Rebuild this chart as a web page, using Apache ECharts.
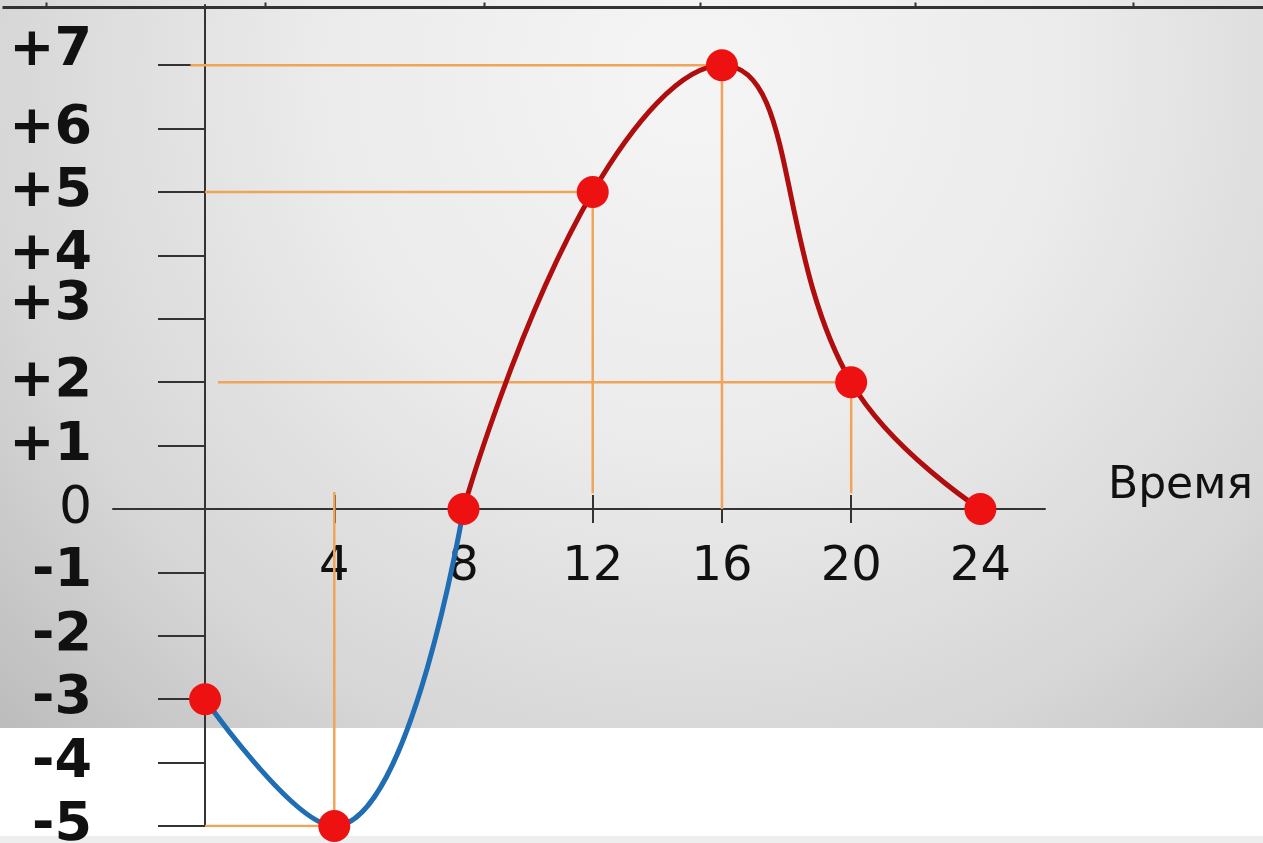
<!DOCTYPE html>
<html lang="ru">
  <head>
    <meta charset="UTF-8" />
    <title>Температура</title>
    <script src="https://cdn.jsdelivr.net/npm/echarts@6/dist/echarts.min.js"></script>
    <style>
      html, body { margin: 0; padding: 0; width: 100%; height: 100%; background: #fff; }
      #chart { width: 1263px; height: 843px; }
    </style>
  </head>
  <body>
    <div id="chart"></div>
    <script>
      // время суток и температура
      var hours = [0, 4, 8, 12, 16, 20, 24];
      var temps = [-3, -5, 0, 5, 7, 2, 0];
      // тики осей
      var xTicks = [4, 8, 12, 16, 20, 24];
      var yTicks = [-5, -4, -3, -2, -1, 0, 1, 2, 3, 4, 5, 6, 7];
      // оранжевые линии: [y, xFrom, xTo] и [x, yFrom, yTo]
      var guideH = [[7, -0.45, 16], [5, 0, 12], [2, 0.4, 20], [-5, 0, 4]];
      var guideV = [[4, -5, 0.27], [12, 5, 0.25], [16, 7, 0], [20, 2, 0.25]];

      var font = "DejaVu Sans";
      var X_MIN = -2.85, X_MAX = 26, Y_MIN = -5, Y_MAX = 7.95;
      var pts = hours.map(function (h, i) { return [h, temps[i]]; });
      var coldPart = pts.slice(0, 3); // ниже нуля, синий
      var warmPart = pts.slice(2);    // выше нуля, красный

      var series = [];
      guideH.forEach(function (g) {
        series.push({
          type: "line", data: [[g[1], g[0]], [g[2], g[0]]], symbol: "none", z: 1,
          lineStyle: { color: "#f0a45a", width: 2.5 }, silent: true
        });
      });
      guideV.forEach(function (g) {
        series.push({
          type: "line", data: [[g[0], g[1]], [g[0], g[2]]], symbol: "none", z: 1,
          lineStyle: { color: "#f0a45a", width: 2.5 }, silent: true
        });
      });
      series.push({
        type: "line", data: coldPart, smooth: 0.45, symbol: "none", z: 3,
        lineStyle: { color: "#1f6db3", width: 5 }
      });
      series.push({
        type: "line", data: warmPart, smooth: 0.45, symbol: "none", z: 3,
        lineStyle: { color: "#b00e0e", width: 5 }
      });
      series.push({
        type: "scatter", data: pts, symbolSize: 32, z: 5,
        itemStyle: { color: "#ee1111", opacity: 1 }
      });

      var axisColor = { color: "#333", width: 2 };
      var hiddenX = { type: "value", show: false, min: X_MIN, max: X_MAX };
      var hiddenY = { type: "value", show: false, min: Y_MIN, max: Y_MAX };

      var option = {
        animation: false,
        backgroundColor: "#fff",
        graphic: [
          {
            type: "rect", left: 0, top: 0, z: -10, silent: true,
            shape: { width: 1263, height: 728 },
            style: {
              fill: {
                type: "radial", x: 0.55, y: 0.1, r: 1.3,
                colorStops: [
                  { offset: 0, color: "#f5f5f5" },
                  { offset: 0.4, color: "#ebebeb" },
                  { offset: 0.75, color: "#d6d6d6" },
                  { offset: 1, color: "#bdbdbd" }
                ]
              }
            }
          },
          {
            type: "rect", left: 0, top: 836, z: -10, silent: true,
            shape: { width: 1263, height: 7 }, style: { fill: "#eeeeee" }
          },
          // верхняя рамка таблицы
          {
            type: "group", left: 0, top: 0, z: -5, silent: true,
            children: [
              { type: "line", shape: { x1: 0, y1: 5, x2: 1263, y2: 5 }, style: { stroke: "#333", lineWidth: 3 } },
              { type: "line", shape: { x1: 44, y1: 0, x2: 44, y2: 5 }, style: { stroke: "#333", lineWidth: 2 } },
              { type: "line", shape: { x1: 263, y1: 0, x2: 263, y2: 5 }, style: { stroke: "#333", lineWidth: 2 } },
              { type: "line", shape: { x1: 482, y1: 0, x2: 482, y2: 5 }, style: { stroke: "#333", lineWidth: 2 } },
              { type: "line", shape: { x1: 698, y1: 0, x2: 698, y2: 5 }, style: { stroke: "#333", lineWidth: 2 } },
              { type: "line", shape: { x1: 913, y1: 0, x2: 913, y2: 5 }, style: { stroke: "#333", lineWidth: 2 } },
              { type: "line", shape: { x1: 1131, y1: 0, x2: 1131, y2: 5 }, style: { stroke: "#333", lineWidth: 2 } }
            ]
          }
        ],
        // 0: ряды, 1: ось X (подписи, тики вниз), 2: тики X вверх, 3: ось Y
        grid: [
          { left: 113, right: 218, top: 5, bottom: 17, outerBoundsMode: "none" },
          { left: 113, right: 218, top: 5, bottom: 334, outerBoundsMode: "none" },
          { left: 113, right: 218, top: 509, bottom: 17, outerBoundsMode: "none" },
          { left: 205, right: 218, top: 5, bottom: 17, outerBoundsMode: "none" }
        ],
        xAxis: [
          Object.assign({ gridIndex: 0 }, hiddenX),
          {
            gridIndex: 1, type: "value", min: X_MIN, max: X_MAX, position: "bottom",
            splitLine: { show: false },
            axisLine: { onZero: false, lineStyle: axisColor },
            axisTick: { customValues: xTicks, length: 14, lineStyle: axisColor },
            axisLabel: { customValues: xTicks, margin: 35, fontSize: 48, fontFamily: font, color: "#111" },
            name: "Время", nameLocation: "end", nameGap: 63,
            nameTextStyle: { fontSize: 44, lineHeight: 44, fontFamily: font, color: "#111", verticalAlign: "bottom" }
          },
          {
            gridIndex: 2, type: "value", min: X_MIN, max: X_MAX, position: "top",
            splitLine: { show: false },
            axisLine: { show: false, onZero: false },
            axisTick: { customValues: xTicks, length: 14, lineStyle: axisColor },
            axisLabel: { show: false }
          },
          Object.assign({ gridIndex: 3 }, hiddenX)
        ],
        yAxis: [
          Object.assign({ gridIndex: 0 }, hiddenY),
          Object.assign({ gridIndex: 1 }, hiddenY),
          Object.assign({ gridIndex: 2 }, hiddenY),
          {
            gridIndex: 3, type: "value", min: Y_MIN, max: Y_MAX, position: "left",
            splitLine: { show: false },
            axisLine: { onZero: false, lineStyle: axisColor },
            axisTick: { customValues: yTicks, length: 47, lineStyle: axisColor },
            axisLabel: {
              customValues: yTicks, margin: 113, color: "#111",
              formatter: function (v) {
                if (v === 0) return "{z|0}";
                var s = v > 0 ? "+" + v : "-" + Math.abs(v);
                return (v === 7 || v === 3) ? "{u|" + s + "}" : "{b|" + s + "}";
              },
              rich: {
                z: { fontSize: 52, fontFamily: font, color: "#111" },
                b: { fontSize: 54, fontFamily: font, fontWeight: "bold", color: "#111" },
                u: { fontSize: 54, fontFamily: font, fontWeight: "bold", color: "#111", padding: [0, 0, 28, 0] }
              }
            }
          }
        ],
        series: series
      };

      var chart = echarts.init(document.getElementById("chart"));
      chart.setOption(option);
    </script>
  </body>
</html>
